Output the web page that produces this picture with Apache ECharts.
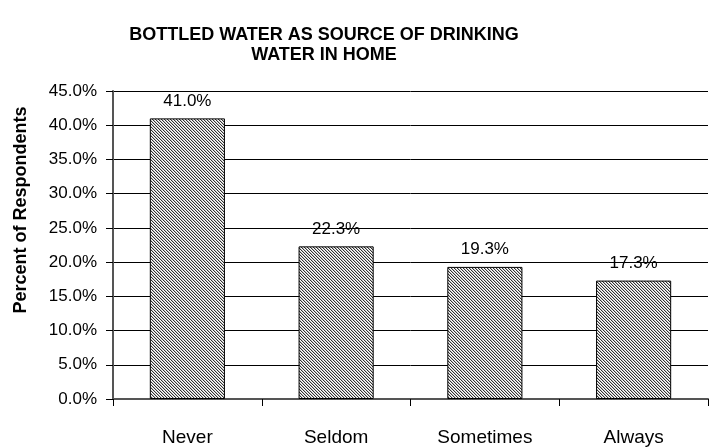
<!DOCTYPE html>
<html>
<head>
<meta charset="utf-8">
<script src="https://cdn.jsdelivr.net/npm/echarts@6/dist/echarts.min.js"></script>
<style>
  html, body { margin: 0; padding: 0; background: #fff; }
  #chart { width: 713px; height: 447px; }
</style>
</head>
<body>
<div id="chart"></div>
<script>
// Survey answers and their shares (percent of respondents)
const categories = ['Never', 'Seldom', 'Sometimes', 'Always'];
const shares = [41.0, 22.3, 19.3, 17.3];
const chartTitle = 'BOTTLED WATER AS SOURCE OF DRINKING\nWATER IN HOME';
const yAxisTitle = 'Percent of Respondents';

// Fine diagonal hatch fill for the bars
function makeHatch() {
  const n = 3;
  const c = document.createElement('canvas');
  c.width = n; c.height = n;
  const ctx = c.getContext('2d');
  ctx.fillStyle = '#ffffff';
  ctx.fillRect(0, 0, n, n);
  for (let i = 0; i < n; i++) {
    ctx.fillStyle = '#333333';
    ctx.fillRect(i, i, 1, 1);
    ctx.fillStyle = '#c4c4c4';
    ctx.fillRect((i + 1) % n, i, 1, 1);
  }
  return c;
}

const font = '"Liberation Sans", Arial, sans-serif';
const chart = echarts.init(document.getElementById('chart'), null, { renderer: 'canvas' });

chart.setOption({
  animation: false,
  backgroundColor: '#ffffff',
  title: {
    text: chartTitle,
    left: 319,
    top: 20,
    textAlign: 'center',
    textStyle: { fontFamily: font, fontSize: 18, fontWeight: 'bold', color: '#000', lineHeight: 20 }
  },
  // Vertical axis title, placed beside the tick labels
  graphic: [{
    type: 'text',
    x: 21,
    y: 210,
    rotation: Math.PI / 2,
    style: {
      text: yAxisTitle,
      font: 'bold 18px ' + font,
      fill: '#000',
      textAlign: 'center',
      textVerticalAlign: 'middle'
    }
  }],
  grid: { left: 113, right: 5, top: 91, bottom: 48, containLabel: false },
  xAxis: {
    type: 'category',
    data: categories,
    boundaryGap: true,
    axisLine: { lineStyle: { color: '#555', width: 2 } },
    axisTick: { show: true, length: 7, lineStyle: { color: '#000', width: 1 } },
    axisLabel: { fontFamily: font, fontSize: 19, color: '#000', margin: 29 }
  },
  yAxis: {
    type: 'value',
    min: 0,
    max: 45,
    interval: 5,
    axisLine: { show: true, lineStyle: { color: '#555', width: 2 } },
    axisTick: { show: true, length: 7, lineStyle: { color: '#000' } },
    axisLabel: {
      fontFamily: font, fontSize: 17, color: '#000', margin: 16,
      formatter: v => v.toFixed(1) + '%'
    },
    splitLine: { show: true, lineStyle: { color: '#000', width: 1 } }
  },
  series: [{
    type: 'bar',
    data: shares,
    barWidth: '50.5%',
    itemStyle: {
      color: { image: makeHatch(), repeat: 'repeat' },
      borderColor: '#000',
      borderWidth: 1
    },
    label: {
      show: true,
      position: 'top',
      distance: 9,
      fontFamily: font,
      fontSize: 17,
      color: '#000',
      formatter: p => p.value.toFixed(1) + '%'
    }
  }]
});
</script>
</body>
</html>
